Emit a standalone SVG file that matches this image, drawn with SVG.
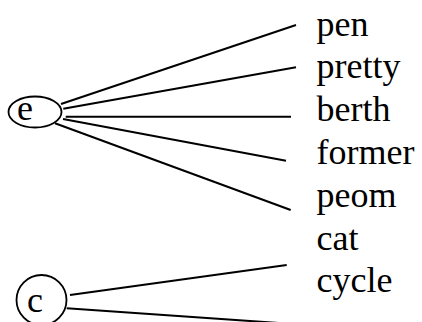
<svg xmlns="http://www.w3.org/2000/svg" width="422" height="322" viewBox="0 0 422 322">
<style>
text { font-family: "Liberation Serif", "Times New Roman", serif; font-size: 36px; fill: #000; }
.node { fill: none; stroke: #000; stroke-width: 1.8; }
.edge { stroke: #000; stroke-width: 2; fill: none; }
</style>
<rect width="422" height="322" fill="#fff"/>
<g id="connectors">
<line class="edge" x1="61" y1="104" x2="296" y2="25"/>
<line class="edge" x1="63.3" y1="108.7" x2="296" y2="67.3"/>
<line class="edge" x1="65.7" y1="116.7" x2="291" y2="116.7"/>
<line class="edge" x1="63" y1="119" x2="286" y2="160.7"/>
<line class="edge" x1="55" y1="123.3" x2="290.7" y2="210"/>
<line class="edge" x1="70" y1="295" x2="286.7" y2="265"/>
<line class="edge" x1="66.7" y1="308.3" x2="286" y2="323.5"/>
</g>
<g id="node-e">
<ellipse class="node" cx="35" cy="112" rx="26.5" ry="15.5"/>
<text x="17" y="120">e</text>
</g>
<g id="node-c">
<circle class="node" cx="41.5" cy="300" r="25"/>
<text x="27" y="311.5">c</text>
</g>
<g id="label-pen"><text x="316.5" y="36">pen</text></g>
<g id="label-pretty"><text x="316.5" y="78">pretty</text></g>
<g id="label-berth"><text x="316.5" y="121">berth</text></g>
<g id="label-former"><text x="316.5" y="164">former</text></g>
<g id="label-peom"><text x="316.5" y="206.5">peom</text></g>
<g id="label-cat"><text x="316.5" y="249.5">cat</text></g>
<g id="label-cycle"><text x="316.5" y="292">cycle</text></g>
</svg>
